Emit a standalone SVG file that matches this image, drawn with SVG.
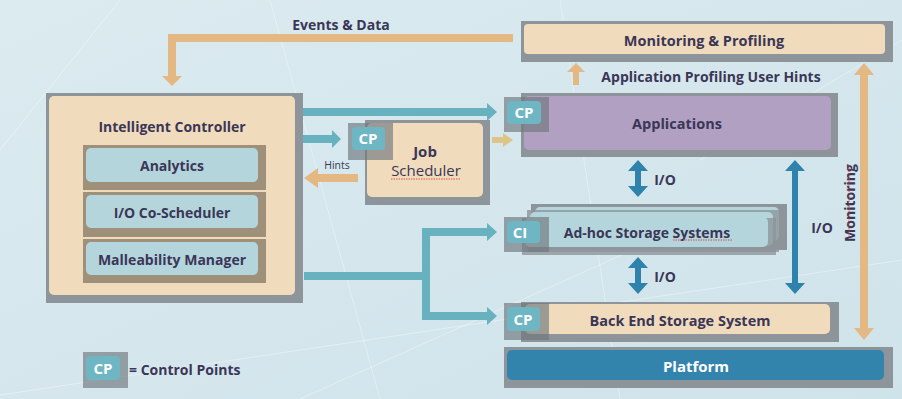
<svg xmlns="http://www.w3.org/2000/svg" width="902" height="399" viewBox="0 0 902 399">
<defs>
<linearGradient id="bg" x1="0" y1="0" x2="1" y2="1">
<stop offset="0" stop-color="#dbebf0"/>
<stop offset="1" stop-color="#cfe3ea"/>
</linearGradient>
<style>
.t{font-family:"Open Sans","Liberation Sans",sans-serif;font-weight:700;fill:#3b3657;text-anchor:middle}
.frame{fill:#8d959b}
.beige{fill:#f0dcbc}
.lb{fill:#b4d5dc}
.brown{fill:#9e9079}
.cpsq{fill:#6f767c;fill-opacity:0.65}
.cp{fill:#6fb6c4}
.cpt{font-family:"Open Sans","Liberation Sans",sans-serif;font-weight:700;fill:#ffffff;text-anchor:middle;font-size:15px}
.teal{fill:#68b2c0}
.orange{fill:#e4b883}
.yellow{fill:#dcc586}
.blue{fill:#2f82ab}
.bgline{stroke:#ffffff;stroke-opacity:0.35;stroke-width:1;fill:none}
.squig{stroke:#e03030;stroke-width:0.8;fill:none;stroke-dasharray:1.5 1}
</style>
</defs>
<rect width="902" height="399" fill="url(#bg)"/>
<g id="background-lines">
<path class="bgline" d="M0 395 L902 260 M270 0 L380 399 M560 0 L620 399 M0 150 L120 0 M700 160 L902 40 M300 399 L700 220"/>
</g>

<g id="connectors">
<polygon class="orange" points="513,34 168,34 168,76 162,76 172,86 182,76 176,76 176,42 513,42"/>
<polygon class="orange" points="573,85 573,72 567,72 576,63 585,72 579,72 579,85"/>
<polygon class="orange" points="864,63 874,75 868,75 868,328 874,328 864,340 854,328 860,328 860,75 854,75"/>
<polygon class="teal" points="303,108 487,108 487,103 497,112 487,121 487,116 303,116"/>
<polygon class="teal" points="303,135 332,135 332,130 341,139 332,148 332,143 303,143"/>
<polygon class="orange" points="358,174 318,174 318,168 304,178 318,188 318,182 358,182"/>
<polygon class="yellow" points="492,137 503,137 503,133 513,140 503,147 503,143 492,143"/>
<polygon class="teal" points="304,272 422,272 422,228 487,228 487,223 497,232 487,241 487,236 430,236 430,312 487,312 487,307 497,316 487,325 487,320 422,320 422,280 304,280"/>
<polygon class="blue" points="638,160 648,171 641,171 641,186 648,186 638,197 628,186 635,186 635,171 628,171"/>
<polygon class="blue" points="638,257 648,268 641,268 641,283 648,283 638,294 628,283 635,283 635,268 628,268"/>
<polygon class="blue" points="795,160 805,171 798,171 798,283 805,283 795,294 785,283 792,283 792,171 785,171"/>
<text class="t" x="341" y="30" font-size="14">Events &amp; Data</text>
<text class="t" x="711" y="82" font-size="14">Application Profiling User Hints</text>
<text x="337" y="169" font-family="Open Sans, Liberation Sans, sans-serif" font-size="10.5" fill="#3b3a4f" text-anchor="middle">Hints</text>
<text class="t" x="665" y="185" font-size="14">I/O</text>
<text class="t" x="665" y="282" font-size="14">I/O</text>
<text class="t" x="822" y="233" font-size="14">I/O</text>
<text class="t" x="0" y="0" font-size="14" transform="translate(855,203) rotate(-90)">Monitoring</text>
<path class="squig" d="M849 237 L849 165"/>
</g>

<g id="intelligent-controller">
<rect class="frame" x="46" y="93" width="257" height="210"/>
<rect class="beige" x="49" y="96" width="246" height="199" rx="5"/>
<text class="t" x="172" y="132" font-size="14">Intelligent Controller</text>
</g>
<g id="analytics">
<rect class="brown" x="83" y="145" width="183" height="45"/>
<rect class="lb" x="86" y="148" width="172" height="34" rx="5"/>
<text class="t" x="172" y="171" font-size="14">Analytics</text>
</g>
<g id="io-co-scheduler">
<rect class="brown" x="83" y="192" width="183" height="45"/>
<rect class="lb" x="86" y="195" width="172" height="33" rx="5"/>
<text class="t" x="172" y="218" font-size="14">I/O Co-Scheduler</text>
</g>
<g id="malleability-manager">
<rect class="brown" x="83" y="239" width="183" height="44"/>
<rect class="lb" x="86" y="242" width="172" height="33" rx="5"/>
<text class="t" x="172" y="265" font-size="14">Malleability Manager</text>
</g>

<g id="job-scheduler">
<rect class="frame" x="365" y="120" width="125" height="85"/>
<rect class="beige" x="367" y="123" width="116" height="74" rx="5"/>
<rect class="cpsq" x="348" y="123" width="45" height="37"/>
<rect class="cp" x="352" y="127" width="33" height="23" rx="4"/>
<text class="cpt" x="368" y="144">CP</text>
<text class="t" x="425" y="157" font-size="15">Job</text>
<text x="426" y="176" font-family="Open Sans, Liberation Sans, sans-serif" font-size="15" font-weight="500" fill="#3b3657" text-anchor="middle">Scheduler</text>
<path class="squig" d="M391 179 L461 179"/>
</g>

<g id="monitoring-profiling">
<rect class="frame" x="521" y="21" width="372" height="41"/>
<rect class="beige" x="524" y="24" width="361" height="30" rx="4"/>
<text class="t" x="704" y="46" font-size="14.5">Monitoring &amp; Profiling</text>
</g>

<g id="applications">
<rect class="frame" x="521" y="93" width="317" height="64"/>
<rect x="524" y="96" width="307" height="54" rx="5" fill="#b1a0c1"/>
<rect class="cpsq" x="504" y="97" width="45" height="35"/>
<rect class="cp" x="507" y="101" width="34" height="23" rx="4"/>
<text class="cpt" x="524" y="118">CP</text>
<text class="t" x="677" y="129" font-size="14.5">Applications</text>
</g>

<g id="adhoc-storage">
<rect class="frame" x="531" y="204" width="256" height="46"/>
<rect class="lb" x="535" y="207" width="244" height="34" rx="5"/>
<rect class="frame" x="527" y="210" width="252" height="42" fill-opacity="0.8"/>
<rect class="lb" x="530" y="212" width="243" height="34" rx="5"/>
<rect class="frame" x="522" y="218" width="254" height="37" fill-opacity="0.8"/>
<rect class="lb" x="525" y="217" width="243" height="30" rx="5"/>
<rect class="cpsq" x="504" y="217" width="45" height="35"/>
<rect class="cp" x="507" y="221" width="33" height="22" rx="4"/>
<text class="cpt" x="520" y="238">CI</text>
<text class="t" x="647" y="238" font-size="14">Ad-hoc Storage Systems</text>
<path class="squig" d="M673 240 L732 240"/>
</g>

<g id="back-end-storage">
<rect class="frame" x="521" y="302" width="318" height="40"/>
<rect class="beige" x="525" y="304" width="305" height="30" rx="5"/>
<rect class="cpsq" x="504" y="303" width="45" height="37"/>
<rect class="cp" x="507" y="307" width="33" height="24" rx="4"/>
<text class="cpt" x="523" y="325">CP</text>
<text class="t" x="680" y="326" font-size="14.5">Back End Storage System</text>
</g>

<g id="platform">
<rect class="frame" x="504" y="347" width="389" height="41"/>
<rect x="507" y="350" width="377" height="30" rx="5" fill="#3384ad"/>
<text class="t" x="696" y="372" font-size="15" style="fill:#ffffff">Platform</text>
</g>

<g id="legend">
<rect class="cpsq" x="83" y="352" width="45" height="36"/>
<rect class="cp" x="86" y="356" width="34" height="24" rx="4"/>
<text class="cpt" x="103" y="374">CP</text>
<text class="t" x="129" y="375" font-size="14" style="text-anchor:start">= Control Points</text>
</g>
</svg>
